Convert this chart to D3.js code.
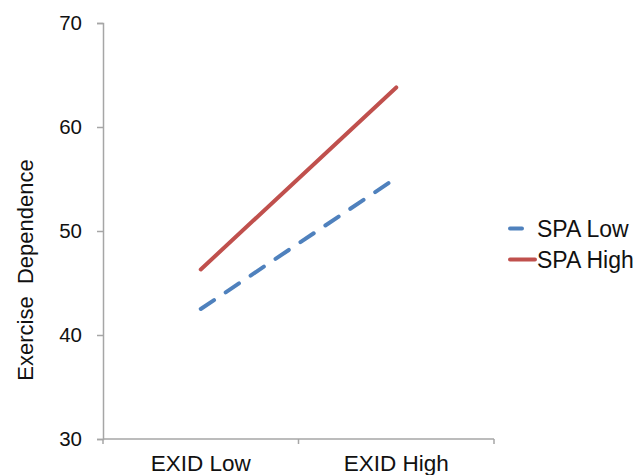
<!DOCTYPE html>
<html>
<head>
<meta charset="utf-8">
<script src="https://cdn.jsdelivr.net/npm/d3@7"></script>
<style>
  html, body { margin: 0; padding: 0; background: #fff; }
  svg { display: block; }
  text { font-family: "Liberation Sans", Arial, sans-serif; fill: #111; }
</style>
</head>
<body>
<svg id="chart" width="638" height="475"></svg>
<script>
// ---- data ----
const categories = ["EXID Low", "EXID High"];
const seriesNames = ["SPA Low", "SPA High"];
const spaLow = [42.5, 55.1];
const spaHigh = [46.3, 63.8];
const yTicks = [30, 40, 50, 60, 70];
const yTitle = "Exercise  Dependence";

const series = [
  { name: seriesNames[0], values: spaLow, color: "#4F81BD", dash: "16,14" },
  { name: seriesNames[1], values: spaHigh, color: "#C0504D", dash: null }
];

const svg = d3.select("#chart");
const axisColor = "#a6a6a6";

const x = d3.scaleBand().domain(categories).range([103, 494]).padding(0);
const y = d3.scaleLinear().domain([30, 70]).range([439, 23]);

// y axis
const yAxis = d3.axisLeft(y).tickValues(yTicks).tickSize(6).tickPadding(15).tickFormat(d3.format("d"));
const gy = svg.append("g").attr("transform", "translate(103,0)").call(yAxis);
gy.select(".domain").attr("stroke", axisColor).attr("stroke-width", 1.5);
gy.selectAll(".tick line").attr("stroke", axisColor).attr("stroke-width", 1.5);
gy.selectAll(".tick text").attr("font-size", 20.5).attr("fill", "#111")
  .style("font-family", "'Liberation Sans', Arial, sans-serif");

// x axis (ticks at band boundaries)
const gx = svg.append("g").attr("transform", "translate(0,439)");
gx.append("line").attr("x1", x.range()[0]).attr("x2", x.range()[1])
  .attr("stroke", axisColor).attr("stroke-width", 1.5);
const boundaries = categories.map(c => x(c)).concat([x(categories[categories.length - 1]) + x.bandwidth()]);
gx.selectAll("line.xt").data(boundaries).join("line").attr("class", "xt")
  .attr("x1", d => d).attr("x2", d => d).attr("y1", 0).attr("y2", 5)
  .attr("stroke", axisColor).attr("stroke-width", 1.5);
gx.selectAll("text").data(categories).join("text")
  .attr("x", d => x(d) + x.bandwidth() / 2).attr("y", 32)
  .attr("text-anchor", "middle").attr("font-size", 22.5).text(d => d);

// y title
svg.append("text")
  .attr("transform", "translate(33,270) rotate(-90)")
  .attr("text-anchor", "middle").attr("font-size", 22)
  .style("white-space", "pre")
  .text(yTitle);

// lines
const line = d3.line().x((d, i) => x(categories[i]) + x.bandwidth() / 2).y(d => y(d));
svg.selectAll("path.series").data(series).join("path").attr("class", "series")
  .attr("d", d => line(d.values))
  .attr("fill", "none").attr("stroke", d => d.color).attr("stroke-width", 4)
  .attr("stroke-linecap", "round")
  .attr("stroke-dasharray", d => d.dash);

// legend
const lg = svg.append("g");
const legendRows = [
  { s: series[0], y: 228.5, x1: 510, x2: 522 },
  { s: series[1], y: 259.5, x1: 510, x2: 535 }
];
lg.selectAll("line").data(legendRows).join("line")
  .attr("x1", d => d.x1).attr("x2", d => d.x2).attr("y1", d => d.y).attr("y2", d => d.y)
  .attr("stroke", d => d.s.color).attr("stroke-width", 4).attr("stroke-linecap", "round");
lg.selectAll("text").data(legendRows).join("text")
  .attr("x", 537).attr("y", d => d.y + 8).attr("font-size", 23).text(d => d.s.name);
</script>
</body>
</html>
